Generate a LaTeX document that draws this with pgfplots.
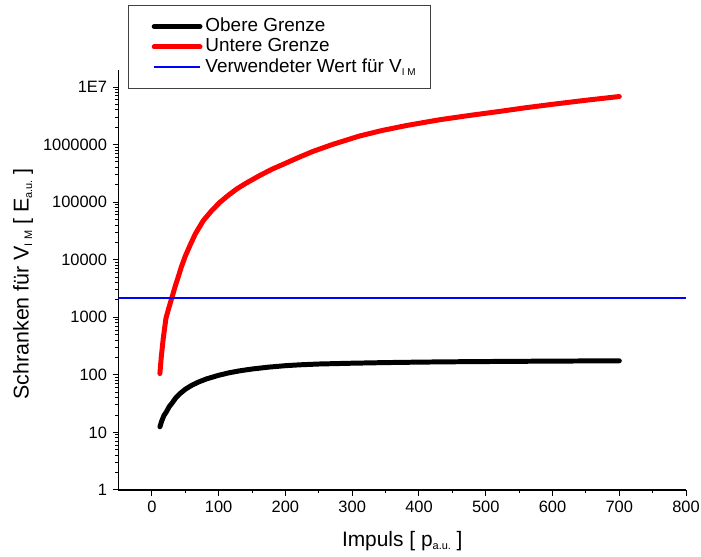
\documentclass[border=0pt]{standalone}
\usepackage{fontspec}
\setmainfont{Liberation Sans}
\usepackage{pgfplots}
\pgfplotsset{compat=1.18}
\usetikzlibrary{calc}
\newcommand{\sub}[2][11]{\raisebox{-3.5pt}{\fontsize{#1}{#1}\selectfont #2}}
\begin{document}
\fontsize{16}{19}\selectfont
\begin{tikzpicture}
\begin{axis}[
  scale only axis,
  width=570pt, height=422pt,
  ymode=log,
  xmin=-50, xmax=800, ymin=1, ymax=2e7,
  axis lines*=left,
  xtick={0,100,...,800},
  minor x tick num=1,
  ytick={1,10,100,1000,10000,100000,1000000,10000000},
  yticklabels={1,10,100,1000,10000,100000,1000000,1E7},
  tick align=outside,
  major tick length=6pt, minor tick length=3.5pt,
  every tick/.style={black, line width=1pt},
  axis line style={line width=1.2pt},
  tick label style={font=\fontsize{16.5}{19}\selectfont},
  /pgf/number format/assume math mode=true,
  xlabel={Impuls [ p\sub{a.u.} ]},
  ylabel={Schranken für V\sub{I M} [ E\sub{a.u.} ]},
  xlabel style={font=\fontsize{21}{24}\selectfont, at={(axis description cs:0.5,-0.121)}, anchor=center},
  ylabel style={font=\fontsize{21.5}{24}\selectfont, at={(axis description cs:-0.168,0.49)}, anchor=center},
  legend style={at={(0.0175,1.154)}, anchor=north west, draw=black!75, line width=0.8pt,
    font=\fontsize{19}{22}\selectfont, row sep=0pt, inner xsep=13pt, inner ysep=11pt,
    nodes={text height=13pt, text depth=3.5pt}},
  legend cell align=left,
  legend image code/.code={\path (0pt,0pt) (57pt,0pt); \draw[#1] (10pt,0pt) -- (56pt,0pt);},
]
\addplot[black, line width=5pt, line cap=round, line join=round] coordinates {
(12,12.5) (15,16) (18,19.5) (22,23) (26,28) (30,32) (36,40) (42,47) (50,56) (60,66) (70,75) (82,85) (100,98) (115,108) (131,117) (150,126) (175,136) (200,144) (221,149) (250,154) (300,159) (350,163) (400,166) (440,168) (500,170) (600,173) (700,175)
};
\addlegendentry{Obere Grenze}
\addplot[red, line width=5pt, line cap=round, line join=round] coordinates {
(12,105) (14,200) (17,425) (21,950) (25,1400) (30,2200) (35,3470) (40,5250) (44,7400) (50,11500) (57,17600) (65,28000) (77,47800) (90,72000) (102,99600) (115,133000) (127,169000) (140,210000) (161,288000) (180,374000) (201,478000) (220,600000) (241,759000) (270,1000000) (311,1410000) (345,1760000) (381,2140000) (430,2690000) (475,3200000) (520,3760000) (560,4370000) (600,5010000) (650,5890000) (700,6840000)
};
\addlegendentry{Untere Grenze}
\addplot[blue, line width=2pt] coordinates {(-50,2200) (800,2200)};
\addlegendentry{Verwendeter Wert für V\sub[10]{I M}}
\end{axis}
\pgfresetboundingbox
\path ($(current axis.south west)+(-119pt,-67pt)$) rectangle ($(current axis.north east)+(15pt,70pt)$);
\end{tikzpicture}
\end{document}
